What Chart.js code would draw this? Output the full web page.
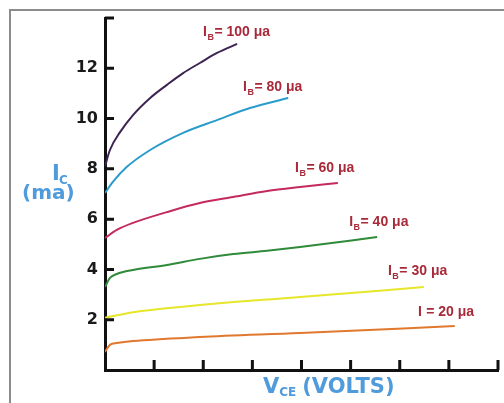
<!DOCTYPE html>
<html><head><meta charset="utf-8">
<script src="https://cdn.jsdelivr.net/npm/chart.js@4"></script>
<style>html,body{margin:0;padding:0;background:#fff;} #wrap{width:504px;height:403px;position:relative;}</style>
</head><body><div id="wrap"><canvas id="c" width="504" height="403"></canvas></div>
<script>
// ---- data (V_CE in volts, I_C in mA) ----
const ib100Vce = [0, 0.10, 0.31, 0.57, 0.92, 1.26, 1.59, 1.93, 2.28, 2.69];
const ib100Ic  = [8.1, 8.75, 9.47, 10.14, 10.82, 11.34, 11.81, 12.21, 12.61, 12.97];
const ib80Vce  = [0, 0.16, 0.44, 0.92, 1.59, 2.28, 2.95, 3.73];
const ib80Ic   = [7.04, 7.48, 8.07, 8.75, 9.43, 9.94, 10.42, 10.82];
const ib60Vce  = [0, 0.24, 0.57, 1.26, 1.93, 2.61, 3.3, 3.97, 4.74];
const ib60Ic   = [5.25, 5.57, 5.85, 6.28, 6.64, 6.88, 7.12, 7.28, 7.44];
const ib40Vce  = [0, 0.1, 0.24, 0.57, 1.26, 1.93, 2.61, 3.3, 3.97, 5.54];
const ib40Ic   = [3.3, 3.66, 3.82, 3.98, 4.18, 4.42, 4.61, 4.74, 4.89, 5.29];
const ib30Vce  = [0, 0.57, 1.26, 1.93, 2.61, 3.3, 3.97, 6.49];
const ib30Ic   = [2.08, 2.3, 2.46, 2.59, 2.7, 2.8, 2.9, 3.3];
const ib20Vce  = [0, 0.1, 0.24, 0.57, 1.93, 3.97, 7.12];
const ib20Ic   = [0.72, 1.0, 1.07, 1.15, 1.31, 1.47, 1.75];

const yTickValues = [2, 4, 6, 8, 10, 12];
const xTickValues = [1, 2, 3, 4, 5, 6, 7, 8];
const curveSubs   = ['B', 'B', 'B', 'B', 'B', ''];
const curveTexts  = ['= 100 μa', '= 80 μa', '= 60 μa', '= 40 μa', '= 30 μa', ' = 20 μa'];
const labelVce    = [1.995, 2.81, 3.87, 4.97, 5.76, 6.37];
const labelIc     = [13.29, 11.10, 7.88, 5.73, 3.78, 2.15];

const colors = ['#3d2352', '#2a9ccc', '#c42a5c', '#2f8a3a', '#e6e62a', '#e0782e'];

function pts(xs, ys) { return xs.map((x, i) => ({x: x, y: ys[i]})); }
const allSeries = [
  pts(ib100Vce, ib100Ic), pts(ib80Vce, ib80Ic), pts(ib60Vce, ib60Ic),
  pts(ib40Vce, ib40Ic), pts(ib30Vce, ib30Ic), pts(ib20Vce, ib20Ic)
];

const decor = {
  id: 'decor',
  beforeDraw(chart) {
    const ctx = chart.ctx;
    ctx.save();
    ctx.fillStyle = '#fff';
    ctx.fillRect(0, 0, chart.width, chart.height);
    ctx.strokeStyle = '#8c8c8c';
    ctx.lineWidth = 2;
    ctx.beginPath();
    ctx.moveTo(10, chart.height);
    ctx.lineTo(10, 10);
    ctx.lineTo(chart.width, 10);
    ctx.stroke();
    ctx.restore();
  },
  afterDraw(chart) {
    const ctx = chart.ctx;
    const xs = chart.scales.x, ys = chart.scales.y;
    const a = chart.chartArea;
    ctx.save();
    ctx.strokeStyle = '#111';
    ctx.lineWidth = 3;
    ctx.beginPath();
    yTickValues.concat([ys.max]).forEach(v => {
      const py = ys.getPixelForValue(v);
      ctx.moveTo(a.left, py); ctx.lineTo(a.left + 9, py);
    });
    xTickValues.forEach(v => {
      const px = xs.getPixelForValue(v);
      ctx.moveTo(px, a.bottom); ctx.lineTo(px, a.bottom - 10);
    });
    ctx.stroke();

    ctx.fillStyle = '#a82a3a';
    ctx.textBaseline = 'alphabetic';
    ctx.textAlign = 'left';
    curveTexts.forEach((t, i) => {
      let px = xs.getPixelForValue(labelVce[i]);
      const py = ys.getPixelForValue(labelIc[i]);
      ctx.font = 'bold 14px "Liberation Sans", Arial, sans-serif';
      ctx.fillText('I', px, py);
      px += ctx.measureText('I').width + 0.5;
      if (curveSubs[i]) {
        ctx.font = 'bold 9px "Liberation Sans", Arial, sans-serif';
        ctx.fillText(curveSubs[i], px, py + 4);
        px += ctx.measureText(curveSubs[i]).width + 0.5;
      }
      ctx.font = 'bold 14px "Liberation Sans", Arial, sans-serif';
      ctx.fillText(t, px, py);
    });

    ctx.fillStyle = '#4f9bdc';
    ctx.font = 'bold 21px "DejaVu Sans", sans-serif';
    ctx.fillText('I', 52, 180);
    ctx.font = 'bold 12px "DejaVu Sans", sans-serif';
    ctx.fillText('C', 59, 184);
    ctx.font = 'bold 20px "DejaVu Sans", sans-serif';
    ctx.fillText('(ma)', 22, 199);

    ctx.font = 'bold 21px "DejaVu Sans", sans-serif';
    ctx.fillText('V', 263, 393);
    let vx = 263 + ctx.measureText('V').width;
    ctx.font = 'bold 12px "DejaVu Sans", sans-serif';
    ctx.fillText('CE', vx, 396);
    vx += ctx.measureText('CE').width + 6;
    ctx.font = 'bold 21px "DejaVu Sans", sans-serif';
    ctx.fillText('(VOLTS)', vx, 393);
    ctx.restore();
  }
};

new Chart(document.getElementById('c'), {
  type: 'line',
  data: {
    datasets: allSeries.map((d, i) => ({
      data: d,
      borderColor: colors[i],
      borderWidth: 2,
      pointRadius: 0,
      fill: false,
      cubicInterpolationMode: 'monotone'
    }))
  },
  options: {
    responsive: false,
    animation: false,
    events: [],
    layout: { padding: { left: 0, top: 18, right: 6, bottom: 0 } },
    plugins: { legend: { display: false }, tooltip: { enabled: false } },
    scales: {
      x: {
        type: 'linear', min: 0, max: 8,
        grid: { display: false, drawTicks: false },
        border: { display: true, color: '#111', width: 3 },
        ticks: { display: false },
        afterFit(s) { s.height = 33; }
      },
      y: {
        type: 'linear', min: 0, max: 14,
        grid: { display: false, drawTicks: false },
        border: { display: true, color: '#111', width: 3 },
        ticks: {
          stepSize: 2,
          padding: 7,
          color: '#1a1a1a',
          font: { family: 'DejaVu Sans', weight: 'bold', size: 16 },
          callback: v => (v === 0 || v === 14) ? '' : v
        },
        afterFit(s) { s.width = 105; }
      }
    }
  },
  plugins: [decor]
});
</script></body></html>
